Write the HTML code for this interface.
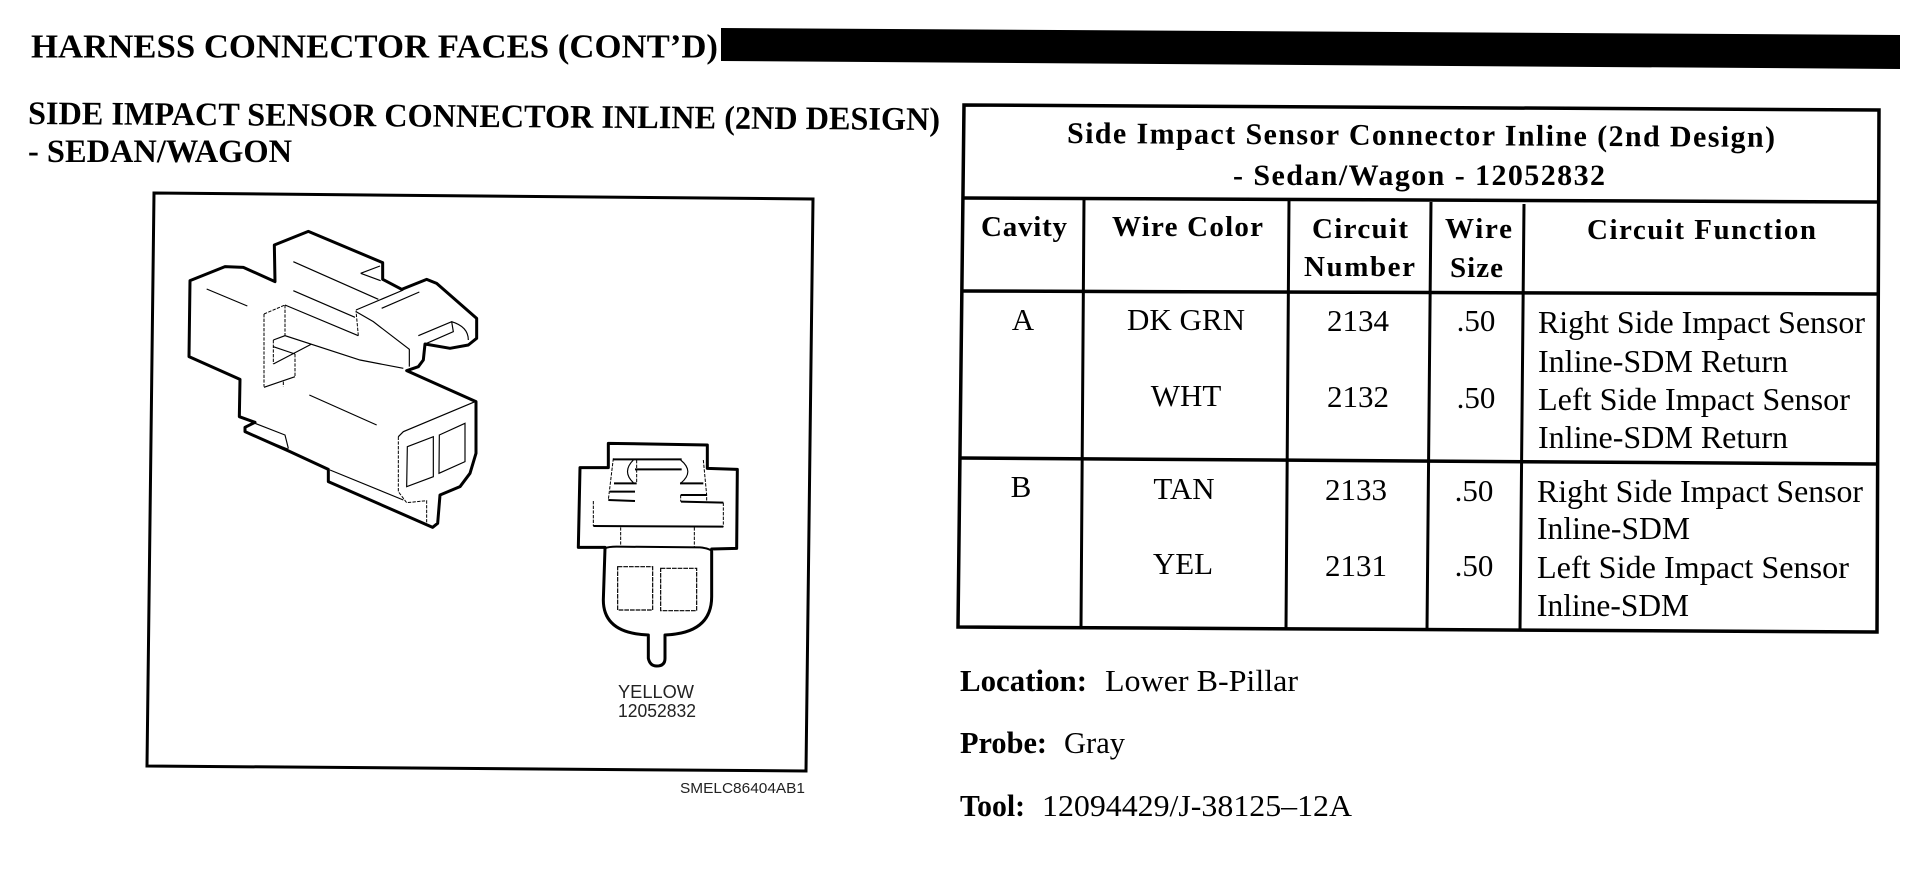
<!DOCTYPE html>
<html lang="en">
<head>
<meta charset="utf-8">
<title>Harness Connector Faces</title>
<style>
html,body{margin:0;padding:0;background:#fff;width:1910px;height:880px;overflow:hidden}
svg{display:block}
text{font-family:"Liberation Serif",serif;fill:#000}
.b{font-weight:bold}
.t{font-size:33px;font-weight:bold}
.h{font-size:29px;font-weight:bold}
.d{font-size:31px;text-anchor:middle}
.f{font-size:32px}
.s{font-family:"Liberation Sans",sans-serif;fill:#222}
.thick{fill:none;stroke:#000;stroke-width:9;stroke-linejoin:round;stroke-linecap:round}
.med{fill:none;stroke:#000;stroke-width:6;stroke-linejoin:round}
.thin{fill:none;stroke:#000;stroke-width:3.5}
.dash{fill:none;stroke:#000;stroke-width:3;stroke-dasharray:10 4}
.tb{fill:none;stroke:#000;stroke-width:3}
.tbk{fill:none;stroke:#000;stroke-width:3.5}
</style>
</head>
<body>
<svg width="1910" height="880" viewBox="0 0 1910 880" xmlns="http://www.w3.org/2000/svg">
<rect width="1910" height="880" fill="#fff"/>

<text class="b" x="31" y="57.5" font-size="34" textLength="687" lengthAdjust="spacingAndGlyphs">HARNESS CONNECTOR FACES (CONT’D)</text>
<polygon points="721,28 1900,35 1900,69 721,61" fill="#000"/>

<text class="t" x="28" y="124" textLength="912" lengthAdjust="spacingAndGlyphs" transform="rotate(0.38 28 124)">SIDE IMPACT SENSOR CONNECTOR INLINE (2ND DESIGN)</text>
<text class="t" x="28" y="162" textLength="264" lengthAdjust="spacingAndGlyphs">- SEDAN/WAGON</text>

<polygon points="154,193 813,199 806,771 147,766" fill="none" stroke="#000" stroke-width="3"/>

<g transform="translate(140,190) scale(0.33333)">
  <path class="thick" d="M300,568 L147,500 L150,272 L255,230 L310,232 L405,275 L403,165 L505,124 L728,218 L728,268 L785,298 L860,268 L890,280 L1010,385 L1010,445 L985,465 L930,475 L855,462 L850,510 L835,530 L800,542 L1008,635 L1008,790 L990,850 L960,890 L900,915 L893,1000 L878,1012 L565,875 L565,838 L450,785 L315,725 L315,712 L345,697 L298,680 Z"/>
  <path class="thin" d="M200,297L322,348M460,215L715,328M460,302L645,382M662,250L720,228M662,250L722,272M648,360L790,300M725,355L838,306"/>
  <path class="thin" d="M435,345L655,437M400,450L435,437L660,510L790,535M400,522L515,462M400,470L465,492M372,592L465,560"/>
  <path class="dash" d="M372,372L435,345M372,372L372,590M435,345L435,438M655,437L648,362M400,450L400,522M465,492L465,560M430,575L430,590"/>
  <path class="thin" d="M648,365L700,395L808,478L808,530"/>
  <path class="thin" d="M835,437L935,395L940,425L860,460M935,395Q985,410 985,450"/>
  <path class="thin" d="M508,615L710,705M1005,635L790,725L775,740M570,840L790,930"/>
  <path class="dash" d="M775,740L775,905L800,938L860,932L860,1000"/>
  <path class="thin" d="M802,770L880,740L880,860L800,890ZM898,735L975,700L975,815L897,850Z"/>
  <path class="thin" d="M345,700L435,735L445,775M318,728L445,778"/>
</g>

<g transform="translate(550,420) scale(0.33333)">
  <path class="thick" d="M175,143L175,70L472,75L472,145L562,148L560,385L485,387M175,143L90,143L85,382L165,382"/>
  <path class="thick" d="M165,385L160,540Q160,640 295,645L295,715Q300,738 320,738Q345,738 345,715L345,645Q485,640 485,530L485,395"/>
  <path class="med" d="M165,385Q175,380 200,380L450,382Q480,385 487,395"/>
  <path class="med" d="M190,118L395,118M255,148L395,148M192,190L260,190M390,190L460,190M180,215L255,215M175,240L255,243M393,245L520,248M130,318L520,320M392,225L470,225"/>
  <path class="dash" d="M130,243L130,318M520,248L520,320M190,115L178,215L175,240M260,120L260,190M460,120L470,225L470,245M392,225L392,245M212,322L212,378M433,322L433,380"/>
  <path class="thin" d="M250,120Q215,155 250,188M392,120Q435,155 392,190"/>
  <path class="thin" d="M203,440L308,440L308,570L203,570ZM332,445L440,445L440,572L332,572Z" stroke-dasharray="14 3"/>
</g>
<text class="s" x="618" y="698" font-size="18" textLength="76" lengthAdjust="spacingAndGlyphs">YELLOW</text>
<text class="s" x="618" y="717" font-size="18" textLength="78" lengthAdjust="spacingAndGlyphs">12052832</text>
<text class="s" x="680" y="793" font-size="15" textLength="125" lengthAdjust="spacingAndGlyphs">SMELC86404AB1</text>

<polygon class="tbk" points="964,105 1879,110 1877,632 958,627"/>
<path class="tbk" d="M963,198L1878,202M963,291L1878,294M960,458L1877,464"/>
<path class="tb" d="M1084,199L1081,627M1289,201L1286,629M1431,202L1427,630M1524,204L1520,631"/>

<text class="b" x="1067" y="143" font-size="30" textLength="708" transform="rotate(0.32 1067 143)">Side Impact Sensor Connector Inline (2nd Design)</text>
<text class="b" x="1233" y="185" font-size="30" textLength="372">- Sedan/Wagon - 12052832</text>

<text class="h" x="981" y="236" textLength="86">Cavity</text>
<text class="h" x="1112" y="236" textLength="151">Wire Color</text>
<text class="h" x="1312" y="238" textLength="96">Circuit</text>
<text class="h" x="1304" y="276" textLength="111">Number</text>
<text class="h" x="1445" y="238" textLength="67">Wire</text>
<text class="h" x="1450" y="277" textLength="53">Size</text>
<text class="h" x="1587" y="239" textLength="229">Circuit Function</text>

<text class="d" x="1023" y="330">A</text>
<text class="d" x="1186" y="330">DK GRN</text>
<text class="d" x="1358" y="331">2134</text>
<text class="d" x="1476" y="331">.50</text>
<text class="f" x="1538" y="333" textLength="327" lengthAdjust="spacingAndGlyphs">Right Side Impact Sensor</text>
<text class="f" x="1538" y="372" textLength="250" lengthAdjust="spacingAndGlyphs">Inline-SDM Return</text>
<text class="d" x="1186" y="406">WHT</text>
<text class="d" x="1358" y="407">2132</text>
<text class="d" x="1476" y="408">.50</text>
<text class="f" x="1538" y="410" textLength="312" lengthAdjust="spacingAndGlyphs">Left Side Impact Sensor</text>
<text class="f" x="1538" y="448" textLength="250" lengthAdjust="spacingAndGlyphs">Inline-SDM Return</text>

<text class="d" x="1021" y="497">B</text>
<text class="d" x="1184" y="499">TAN</text>
<text class="d" x="1356" y="500">2133</text>
<text class="d" x="1474" y="501">.50</text>
<text class="f" x="1537" y="502" textLength="326" lengthAdjust="spacingAndGlyphs">Right Side Impact Sensor</text>
<text class="f" x="1537" y="539" textLength="153" lengthAdjust="spacingAndGlyphs">Inline-SDM</text>
<text class="d" x="1183" y="574">YEL</text>
<text class="d" x="1356" y="576">2131</text>
<text class="d" x="1474" y="576">.50</text>
<text class="f" x="1537" y="578" textLength="312" lengthAdjust="spacingAndGlyphs">Left Side Impact Sensor</text>
<text class="f" x="1537" y="616" textLength="152" lengthAdjust="spacingAndGlyphs">Inline-SDM</text>

<text class="b" x="960" y="691" font-size="31" textLength="127" lengthAdjust="spacingAndGlyphs">Location:</text>
<text x="1105" y="691" font-size="31" textLength="193" lengthAdjust="spacingAndGlyphs">Lower B-Pillar</text>
<text class="b" x="960" y="753" font-size="31" textLength="87" lengthAdjust="spacingAndGlyphs">Probe:</text>
<text x="1064" y="753" font-size="31" textLength="61" lengthAdjust="spacingAndGlyphs">Gray</text>
<text class="b" x="960" y="816" font-size="31" textLength="65" lengthAdjust="spacingAndGlyphs">Tool:</text>
<text x="1042" y="816" font-size="31" textLength="310" lengthAdjust="spacingAndGlyphs">12094429/J-38125–12A</text>
</svg>
</body>
</html>
